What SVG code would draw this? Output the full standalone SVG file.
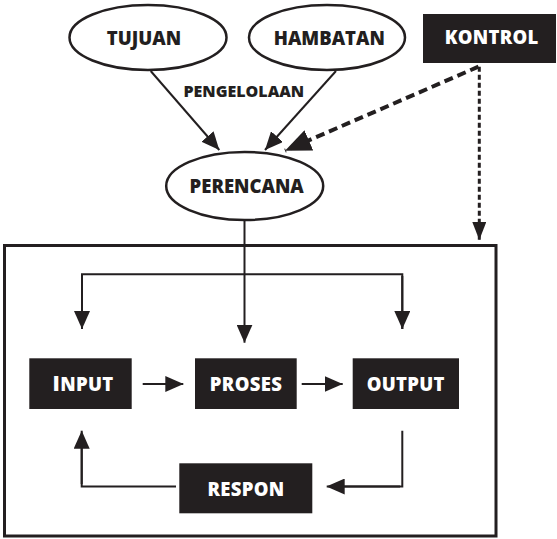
<svg xmlns="http://www.w3.org/2000/svg" width="557" height="539" viewBox="0 0 557 539">
<style>
.ell{fill:#fff;stroke:#231f20;stroke-width:2.5}
.box{fill:#231f20}
.t{font-family:"Open Sans","Liberation Sans",sans-serif;font-weight:800;text-anchor:middle}
.tb{fill:#231f20;font-size:18.5px}
.tw{fill:#fff;font-size:18.5px;letter-spacing:0.3px}
.c{fill:none;stroke:#231f20;stroke-width:2}
</style>
<defs>
<marker id="ah" viewBox="0 0 18 16" refX="18" refY="8" markerWidth="18" markerHeight="16" markerUnits="userSpaceOnUse" orient="auto">
<path d="M0,0 L18,8 L0,16 z" fill="#231f20"/>
</marker>
<marker id="ahs" viewBox="0 0 18 14" refX="18" refY="7" markerWidth="18" markerHeight="14" markerUnits="userSpaceOnUse" orient="auto">
<path d="M0,0 L18,7 L0,14 z" fill="#231f20"/>
</marker>
<marker id="ahb" viewBox="0 0 26 22" refX="26" refY="11" markerWidth="26" markerHeight="22" markerUnits="userSpaceOnUse" orient="auto">
<path d="M0,0 L26,11 L0,22 z" fill="#231f20"/>
</marker>
</defs>
<rect x="4.5" y="245.5" width="491.5" height="290.5" fill="none" stroke="#231f20" stroke-width="3"/>
<g id="connectors">
<line class="c" x1="150.7" y1="71" x2="219.3" y2="150" marker-end="url(#ah)"/>
<line class="c" x1="336" y1="71" x2="265" y2="150" marker-end="url(#ah)"/>
<line x1="478.5" y1="66.7" x2="285" y2="150.7" fill="none" stroke="#231f20" stroke-width="4" stroke-dasharray="9,5" marker-end="url(#ahb)"/>
<line x1="479.3" y1="66.7" x2="479.3" y2="240" fill="none" stroke="#231f20" stroke-width="3" stroke-dasharray="5,3" marker-end="url(#ahs)"/>
<line class="c" x1="244.5" y1="220" x2="244.5" y2="342.7" marker-end="url(#ah)"/>
<path class="c" d="M82,329 V274.3 H402.3 V329"/>
<line class="c" x1="82" y1="276" x2="82" y2="329" marker-end="url(#ah)"/>
<line class="c" x1="402.3" y1="276" x2="402.3" y2="329" marker-end="url(#ah)"/>
<line class="c" x1="142.7" y1="384" x2="183.3" y2="384" marker-end="url(#ah)"/>
<line class="c" x1="301.7" y1="384" x2="342.7" y2="384" marker-end="url(#ah)"/>
<path class="c" d="M402.3,430.7 V486.5 H330" />
<line class="c" x1="400" y1="486.5" x2="326.7" y2="486.5" marker-end="url(#ah)"/>
<path class="c" d="M176,486.5 H81.7 V435"/>
<line class="c" x1="81.7" y1="484" x2="81.7" y2="430.7" marker-end="url(#ah)"/>
</g>
<g id="tujuan">
<ellipse class="ell" cx="148" cy="37.5" rx="78.5" ry="32.5"/>
<text class="t tb" x="144" y="45">TUJUAN</text>
</g>
<g id="hambatan">
<ellipse class="ell" cx="327" cy="37.5" rx="78" ry="32.5"/>
<text class="t tb" x="329.3" y="45">HAMBATAN</text>
</g>
<g id="pengelolaan">
<text class="t" x="243.8" y="96.7" fill="#231f20" font-size="16">PENGELOLAAN</text>
</g>
<g id="perencana">
<ellipse class="ell" cx="244.7" cy="186" rx="78.5" ry="34"/>
<text class="t tb" x="246.7" y="193.3">PERENCANA</text>
</g>
<g id="kontrol">
<rect class="box" x="423" y="14" width="133" height="49"/>
<text class="t tw" x="491.7" y="44">KONTROL</text>
</g>
<g id="input">
<rect class="box" x="29.3" y="358.3" width="102.4" height="50.7"/>
<text class="t tw" x="83" y="390.7"><tspan font-size="21">I</tspan>NPUT</text>
</g>
<g id="proses">
<rect class="box" x="195" y="358.3" width="101.7" height="50.7"/>
<text class="t tw" x="246" y="390.7">PROSES</text>
</g>
<g id="output">
<rect class="box" x="352.7" y="358.3" width="106.3" height="50.7"/>
<text class="t tw" x="405.7" y="390.7">OUTPUT</text>
</g>
<g id="respon">
<rect class="box" x="179.3" y="463.3" width="133" height="50"/>
<text class="t tw" x="246" y="496">RESPON</text>
</g>
</svg>
